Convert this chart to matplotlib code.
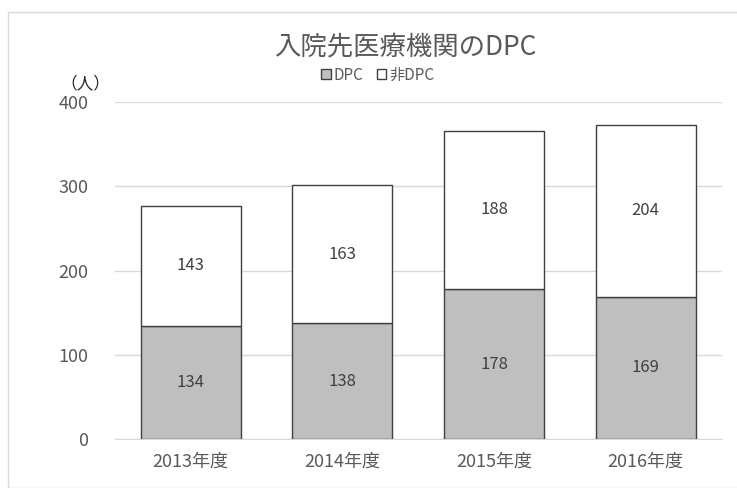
import numpy as np
import matplotlib.pyplot as plt
from matplotlib.patches import Rectangle

plt.rcParams['font.family'] = ['Noto Sans CJK JP', 'DejaVu Sans']

years = ['2013年度', '2014年度', '2015年度', '2016年度']
dpc = [134, 138, 178, 169]
non_dpc = [143, 163, 188, 204]

text_color = '#595959'

fig = plt.figure(figsize=(7.37, 4.88), dpi=100)
fig.patches.append(Rectangle((8 / 737, 0.0), 1.0, 1 - 12 / 488, transform=fig.transFigure,
                             fill=False, edgecolor='#d9d9d9', linewidth=1))
ax = fig.add_axes([0.156, 0.100, 0.823, 0.691])

x = np.arange(len(years))
w = 0.66
ax.bar(x, dpc, w, color='#bfbfbf', edgecolor='#404040', linewidth=1, label='DPC', zorder=3)
ax.bar(x, non_dpc, w, bottom=dpc, color='white', edgecolor='#404040', linewidth=1,
       label='非DPC', zorder=3)

# ラベル
for i in range(len(years)):
    ax.text(x[i], dpc[i] / 2, str(dpc[i]), ha='center', va='center', fontsize=12, color='#404040', zorder=4)
    ax.text(x[i], dpc[i] + non_dpc[i] / 2, str(non_dpc[i]), ha='center', va='center',
            fontsize=12, color='#404040', zorder=4)

ax.set_ylim(0, 400)
ax.set_xlim(-0.5, len(years) - 0.5)
ax.set_yticks([0, 100, 200, 300, 400])
ax.set_xticks(x)
ax.set_xticklabels(years)
ax.yaxis.grid(True, color='#d9d9d9', linewidth=1, zorder=0)
for s in ['top', 'right', 'left']:
    ax.spines[s].set_visible(False)
ax.spines['bottom'].set_color('#d9d9d9')
ax.tick_params(axis='both', length=0, labelsize=13, colors=text_color)
ax.tick_params(axis='y', pad=19)
ax.tick_params(axis='x', pad=10)

fig.text(405 / 737, 1 - 47 / 488, '入院先医療機関のDPC', ha='center', va='center', fontsize=19, color=text_color)
fig.text(85 / 737, 1 - 84 / 488, '（人）', ha='center', va='center', fontsize=12, color='#262626')

ax.legend(loc='center', bbox_to_anchor=(378 / 737, 1 - 75 / 488), bbox_transform=fig.transFigure,
          ncol=2, frameon=False, fontsize=11, handlelength=0.6, handleheight=0.6,
          handletextpad=0.2, columnspacing=0.9, borderpad=0, labelcolor=text_color)

fig.savefig('out.png', dpi=100)
